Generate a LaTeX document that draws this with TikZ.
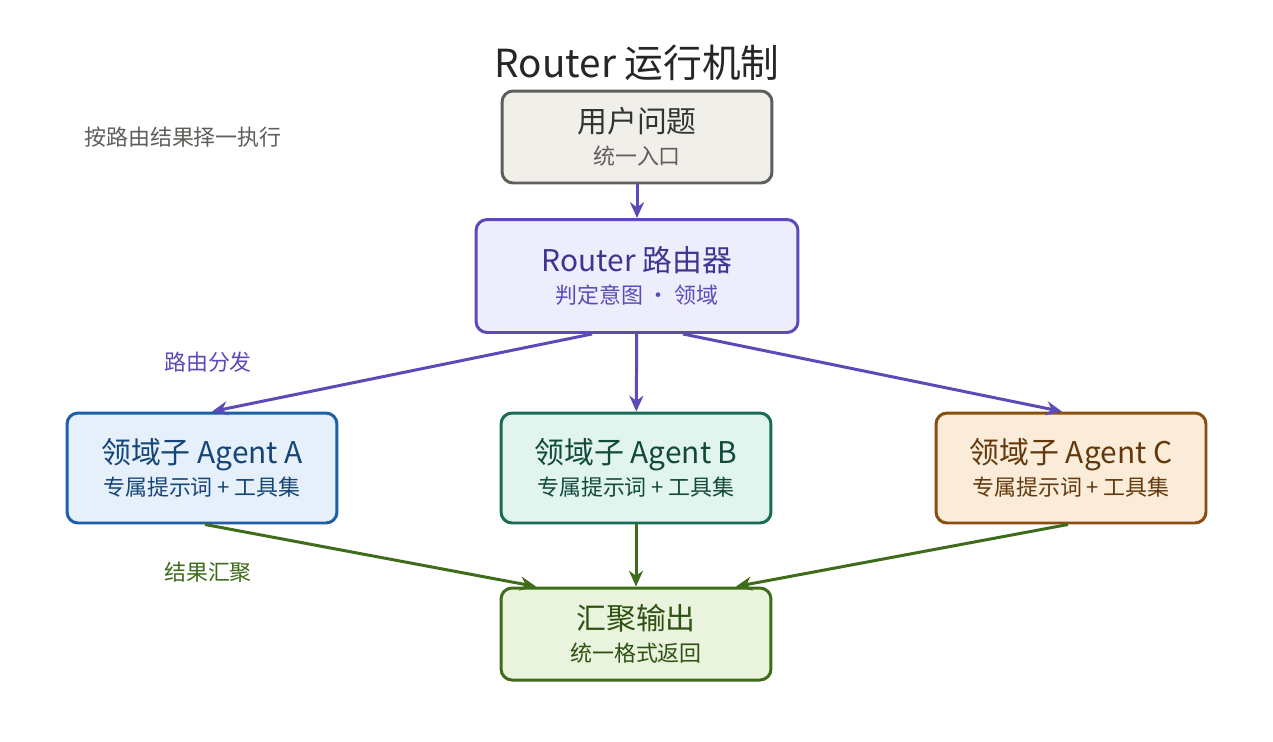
\documentclass[tikz,border=0pt]{standalone}
\usepackage{fontspec}
\setmainfont{Noto Sans CJK SC}
\usepackage{xcolor}
\definecolor{userFill}{HTML}{F1EFE9}
\definecolor{userLine}{HTML}{5F5E5A}
\definecolor{routFill}{HTML}{EEEDFC}
\definecolor{routLine}{HTML}{5A4BB8}
\definecolor{routText}{HTML}{3F3490}
\definecolor{aFill}{HTML}{E6F0FA}
\definecolor{aLine}{HTML}{1F5FA6}
\definecolor{aText}{HTML}{154578}
\definecolor{bFill}{HTML}{E1F4EE}
\definecolor{bLine}{HTML}{1A6B55}
\definecolor{bText}{HTML}{114A3B}
\definecolor{cFill}{HTML}{FAECD9}
\definecolor{cLine}{HTML}{8A4E10}
\definecolor{cText}{HTML}{63380A}
\definecolor{outFill}{HTML}{E9F3DD}
\definecolor{outLine}{HTML}{3E6C1A}
\definecolor{outText}{HTML}{2E5212}
\usetikzlibrary{arrows.meta,positioning}
\tikzset{
    box/.style={
        rectangle,
        rounded corners=2.2mm,
        line width=1.7pt,
        align=center,
        inner sep=0pt,
        font=\fontsize{12.5}{18}\selectfont
    },
    flow/.style={
        -{Stealth[length=9pt,width=8pt]},
        line width=1.7pt
    },
    note/.style={font=\fontsize{12.5}{14}\selectfont}
}
\newcommand{\boxsub}[1]{\\{\fontsize{12.5}{18}\selectfont #1}}
\newcommand{\boxmain}[1]{{\fontsize{17}{18}\selectfont #1}}

\begin{document}
\begin{tikzpicture}[x=0.02cm,y=-0.02cm]
    \useasboundingbox[fill=white] (0,0) rectangle (1273,741);
    % title
    \node[font=\fontsize{22}{24}\selectfont, text=black!85] (title) at (637,63) {Router 运行机制};

    % boxes
    \node[box, draw=userLine, fill=userFill, minimum width=5.4cm, minimum height=1.84cm, text=black!80] (user) at (637,137)
        {\boxmain{用户问题}\boxsub{\textcolor{userLine}{统一入口}}};
    \node[box, draw=routLine, fill=routFill, minimum width=6.44cm, minimum height=2.26cm, text=routText] (router) at (637,276)
        {\boxmain{Router 路由器}\boxsub{\textcolor{routLine}{判定意图 · 领域}}};
    \node[box, draw=aLine, fill=aFill, minimum width=5.4cm, minimum height=2.2cm, text=aText] (agentA) at (202,468)
        {\boxmain{领域子 Agent A}\boxsub{专属提示词 + 工具集}};
    \node[box, draw=bLine, fill=bFill, minimum width=5.4cm, minimum height=2.2cm, text=bText] (agentB) at (636,468)
        {\boxmain{领域子 Agent B}\boxsub{专属提示词 + 工具集}};
    \node[box, draw=cLine, fill=cFill, minimum width=5.4cm, minimum height=2.2cm, text=cText] (agentC) at (1071,468)
        {\boxmain{领域子 Agent C}\boxsub{专属提示词 + 工具集}};
    \node[box, draw=outLine, fill=outFill, minimum width=5.4cm, minimum height=1.84cm, text=outText] (out) at (636,634)
        {\boxmain{汇聚输出}\boxsub{统一格式返回}};

    % side notes
    \node[note, text=userLine] (noteTop) at (183,137) {按路由结果择一执行};
    \node[note, text=routLine] (noteRoute) at (208,362) {路由分发};
    \node[note, text=outLine] (noteMerge) at (208,572) {结果汇聚};

    % routing
    \draw[flow, routLine] (user) -- (router);
    \draw[flow, routLine] ([xshift=-0.9cm]router.south) -- ([xshift=0.2cm]agentA.north);
    \draw[flow, routLine] (router) -- (agentB);
    \draw[flow, routLine] ([xshift=0.92cm]router.south) -- ([xshift=-0.18cm]agentC.north);

    % merging
    \draw[flow, outLine] ([xshift=0.06cm]agentA.south) -- ([xshift=-2cm]out.north);
    \draw[flow, outLine] (agentB) -- (out);
    \draw[flow, outLine] ([xshift=-0.06cm]agentC.south) -- ([xshift=2cm]out.north);
\end{tikzpicture}
\end{document}
